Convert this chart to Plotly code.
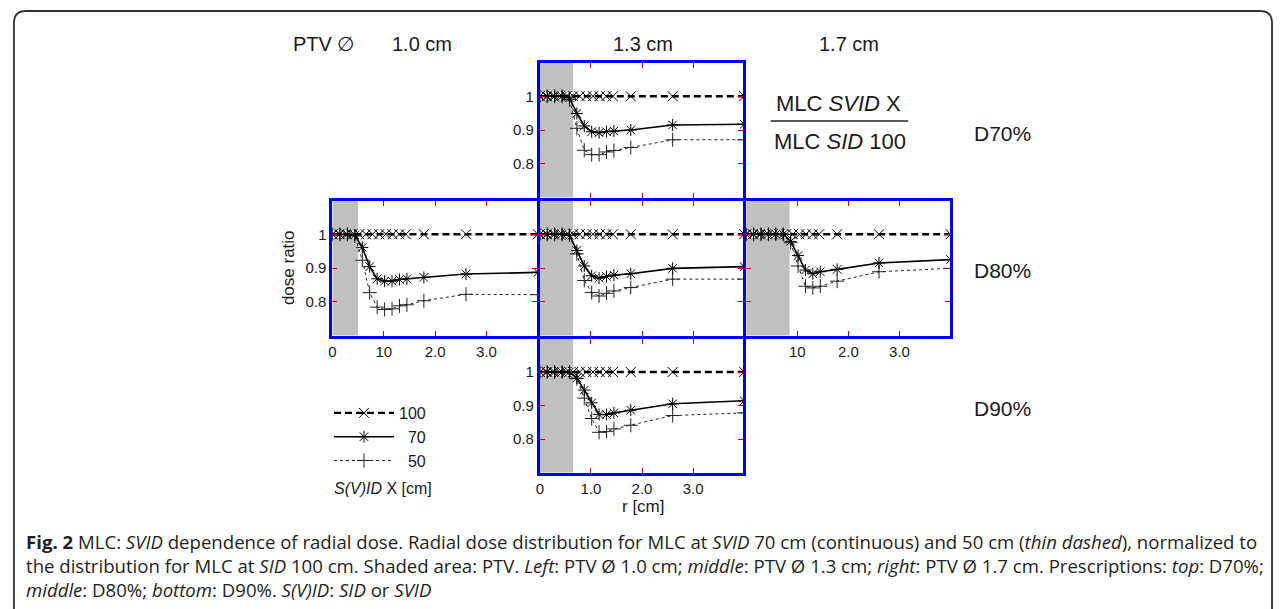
import plotly.graph_objects as go

# ---- data -------------------------------------------------------------
# radial positions (cm) of the reference (SID 100) samples
R_100 = [0, 0.13, 0.26, 0.39, 0.52, 0.65, 0.78, 0.91, 1.04, 1.17, 1.30, 1.43, 1.78, 2.6, 4.0]
DOSE_100 = [1.0, 1.0, 1.0, 1.0, 1.0, 1.0, 1.0, 1.0, 1.0, 1.0, 1.0, 1.0, 1.0, 1.0, 1.0]

# radial positions (cm) of the SVID 70 / SVID 50 samples
R_SVID = [0, 0.145, 0.29, 0.435, 0.58, 0.725, 0.87, 1.015, 1.16, 1.305, 1.45, 1.78, 2.6, 4.0]

# PTV diameters (cm) for left / middle / right columns
PTV_DIAM = [1.0, 1.3, 1.7]
PTV_LABELS = ["1.0 cm", "1.3 cm", "1.7 cm"]
PRESCRIPTIONS = ["D70%", "D80%", "D90%"]
SVID_LABELS = ["100", "\u200770", "\u200750"]

# D70%, PTV 1.3 cm
SVID70_D70_13 = [1, 1, 1, 1, 0.995, 0.949, 0.912, 0.895, 0.892, 0.895, 0.897, 0.900, 0.915, 0.917]
SVID50_D70_13 = [1, 1, 1, 1, 0.990, 0.905, 0.840, 0.827, 0.827, 0.835, 0.839, 0.848, 0.871, 0.871]
# D80%, PTV 1.0 cm
SVID70_D80_10 = [1, 1, 1, 0.998, 0.961, 0.904, 0.868, 0.861, 0.861, 0.866, 0.868, 0.872, 0.882, 0.887]
SVID50_D80_10 = [1, 1, 1, 0.995, 0.923, 0.827, 0.784, 0.777, 0.779, 0.788, 0.791, 0.803, 0.822, 0.821]
# D80%, PTV 1.3 cm
SVID70_D80_13 = [1, 1, 1, 1, 0.997, 0.952, 0.906, 0.877, 0.870, 0.875, 0.879, 0.883, 0.899, 0.904]
SVID50_D80_13 = [1, 1, 1, 1, 0.997, 0.942, 0.863, 0.827, 0.817, 0.825, 0.832, 0.842, 0.867, 0.867]
# D80%, PTV 1.7 cm
SVID70_D80_17 = [1, 1, 1, 1, 1, 1, 0.979, 0.937, 0.894, 0.883, 0.889, 0.896, 0.915, 0.925]
SVID50_D80_17 = [1, 1, 1, 1, 1, 1, 0.975, 0.906, 0.846, 0.841, 0.846, 0.861, 0.889, 0.899]
# D90%, PTV 1.3 cm
SVID70_D90_13 = [1, 1, 1, 1, 1, 0.982, 0.946, 0.908, 0.873, 0.873, 0.878, 0.886, 0.905, 0.914]
SVID50_D90_13 = [1, 1, 1, 1, 1, 0.980, 0.922, 0.861, 0.820, 0.822, 0.830, 0.841, 0.870, 0.878]

# ---- page geometry (pixels) -------------------------------------------
W, H = 1281, 609
LW = 3  # panel border width


def px(x):
    return x / W


def py(y):
    return 1 - y / H


# centre lines of the panel borders
COL_EDGES = [328, 536, 743, 950]
ROW_EDGES = [61, 199, 337, 474]

# (column, row, svid70, svid50)
PANELS = [
    (1, 0, SVID70_D70_13, SVID50_D70_13),   # top
    (0, 1, SVID70_D80_10, SVID50_D80_10),   # middle left
    (1, 1, SVID70_D80_13, SVID50_D80_13),   # middle centre
    (2, 1, SVID70_D80_17, SVID50_D80_17),   # middle right
    (1, 2, SVID70_D90_13, SVID50_D90_13),   # bottom
]

# which panels carry tick labels
X_LABELS = {1: ["0", "10", "2.0", "3.0"], 3: ["", "10", "2.0", "3.0"], 4: ["0", "1.0", "2.0", "3.0"]}
Y_LABELS = {0, 1, 4}

SANS = "Liberation Sans, Arial, sans-serif"
AX_FONT = dict(family=SANS, size=15, color="#1a1a1a")
TEXT_FONT = dict(family=SANS, size=20, color="#1a1a1a")

fig = go.Figure()
layout = {}
shapes = []

for i, (col, row, v70, v50) in enumerate(PANELS):
    n = i + 1
    xa, ya = f"x{n}" if n > 1 else "x", f"y{n}" if n > 1 else "y"
    first = i == 1
    # opaque backing behind the SID 100 point symbols
    fig.add_trace(go.Scatter(
        x=R_100, y=DOSE_100, xaxis=xa, yaxis=ya, mode="markers", showlegend=False,
        hoverinfo="skip", marker=dict(symbol="square", size=8, color="white"),
    ))
    fig.add_trace(go.Scatter(
        x=R_SVID, y=v50, xaxis=xa, yaxis=ya, mode="lines+markers",
        name=SVID_LABELS[2], legendgroup="g50", legendrank=3, showlegend=first,
        line=dict(color="#222", width=1, dash="3px,3px"),
        marker=dict(symbol="cross-thin-open", size=10, line=dict(color="#000", width=1)),
    ))
    fig.add_trace(go.Scatter(
        x=R_SVID, y=v70, xaxis=xa, yaxis=ya, mode="lines+markers",
        name=SVID_LABELS[1], legendgroup="g70", legendrank=2, showlegend=first,
        line=dict(color="#000", width=1.6),
        marker=dict(symbol="asterisk-open", size=10, line=dict(color="#000", width=1)),
    ))
    fig.add_trace(go.Scatter(
        x=R_100, y=DOSE_100, xaxis=xa, yaxis=ya, mode="lines+markers",
        name=SVID_LABELS[0], legendgroup="g100", legendrank=1, showlegend=first,
        line=dict(color="#000", width=2.4, dash="7px,4px"),
        marker=dict(symbol="x-thin-open", size=10, line=dict(color="#000", width=1)),
    ))

    l, r = COL_EDGES[col] + LW / 2, COL_EDGES[col + 1] - LW / 2
    t, b = ROW_EDGES[row] + LW / 2, ROW_EDGES[row + 1] - LW / 2
    common = dict(showline=True, linecolor="#0000ff", linewidth=LW, mirror="allticks",
                  ticks="inside", ticklen=5, tickwidth=1.2, tickcolor="#d40000",
                  showgrid=False, zeroline=False, tickfont=AX_FONT, fixedrange=True)
    xk = "xaxis" if n == 1 else f"xaxis{n}"
    yk = "yaxis" if n == 1 else f"yaxis{n}"
    xt = X_LABELS.get(i)
    layout[xk] = dict(common, domain=[px(l), px(r)], anchor=ya, range=[0, 3.98],
                      tickvals=[0, 1, 2, 3] if xt else [1, 2, 3],
                      ticktext=xt if xt else None,
                      showticklabels=bool(xt))
    layout[yk] = dict(common, domain=[py(b), py(t)], anchor=xa, range=[0.7, 1.1],
                      tickvals=[0.8, 0.9, 1.0], ticktext=["0.8", "0.9", "1"],
                      showticklabels=i in Y_LABELS)

    # shaded PTV area
    shapes.append(dict(type="rect", xref=xa, yref=f"{ya} domain", x0=0, x1=PTV_DIAM[col] / 2,
                       y0=0, y1=1, fillcolor="#c0c0c0", line=dict(width=0), layer="below"))

# figure frame with rounded top corners
frame = (f"M {px(10)},{py(640)} L {px(10)},{py(23)} Q {px(10)},{py(11)} {px(22)},{py(11)} "
         f"L {px(1260)},{py(11)} Q {px(1272)},{py(11)} {px(1272)},{py(23)} L {px(1272)},{py(640)}")
shapes.append(dict(type="path", xref="paper", yref="paper", path=frame,
                   line=dict(color="#333", width=1.8)))
# fraction bar of the ratio label
shapes.append(dict(type="line", xref="paper", yref="paper", x0=px(769), x1=px(907),
                   y0=py(121), y1=py(121), line=dict(color="#222", width=1.3)))

annotations = []


def text(x, y, s, font=TEXT_FONT, xanchor="center", **kw):
    annotations.append(dict(x=px(x), y=py(y), xref="paper", yref="paper", text=s,
                            showarrow=False, font=font, xanchor=xanchor, yanchor="middle", **kw))


# column headers
text(321, 44, "PTV \u2205")
for cx, lab in zip([419, 641, 848], PTV_LABELS):
    text(cx, 44, lab)
# row labels
for cy, lab in zip([133, 270, 408], PRESCRIPTIONS):
    text(1002, cy, lab, font=dict(TEXT_FONT, size=21))
# ratio label
RATIO_FONT = dict(family=SANS, size=22, color="#1a1a1a")
text(837, 103, "MLC <i>SVID</i> X", font=RATIO_FONT)
text(839, 141, "MLC <i>SID</i> 100", font=RATIO_FONT)
# axis titles
text(285, 268, "dose ratio", font=dict(AX_FONT, size=17), textangle=-90)
text(642, 506, "r [cm]", font=dict(AX_FONT, size=17))
# legend title
text(380, 488, "<i>S(V)ID</i> X [cm]", font=dict(AX_FONT, size=16))

# caption
CAP_FONT = dict(family="Open Sans, sans-serif", size=18.6, color="#231f20")
caption = [
    "<b>Fig. 2</b> MLC: <i>SVID</i> dependence of radial dose. Radial dose distribution for MLC at "
    "<i>SVID</i> 70 cm (continuous) and 50 cm (<i>thin dashed</i>), normalized to",
    "the distribution for MLC at <i>SID</i> 100 cm. Shaded area: PTV. <i>Left</i>: PTV \u00d8 1.0 cm; "
    "<i>middle</i>: PTV \u00d8 1.3 cm; <i>right</i>: PTV \u00d8 1.7 cm. Prescriptions: <i>top</i>: D70%;",
    "<i>middle</i>: D80%; <i>bottom</i>: D90%. <i>S(V)ID</i>: <i>SID</i> or <i>SVID</i>",
]
for k, line in enumerate(caption):
    text(20, 541 + 24 * k, line, font=CAP_FONT, xanchor="left")

fig.update_layout(
    **layout,
    width=W, height=H,
    margin=dict(l=0, r=0, t=0, b=0),
    paper_bgcolor="white", plot_bgcolor="white",
    shapes=shapes, annotations=annotations,
    showlegend=True,
    legend=dict(x=px(326), y=py(396), xanchor="left", yanchor="top",
                font=dict(AX_FONT, size=16), itemwidth=60, tracegroupgap=9,
                bgcolor="rgba(0,0,0,0)", traceorder="normal"),
)

fig.write_html("out.html", config={"displayModeBar": False})
